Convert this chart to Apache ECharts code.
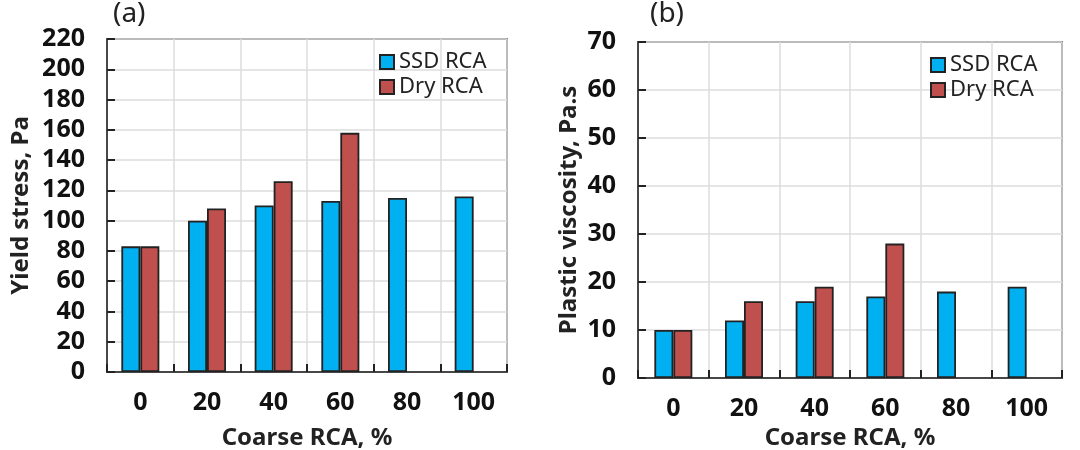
<!DOCTYPE html>
<html>
<head>
<meta charset="utf-8">
<script src="https://cdn.jsdelivr.net/npm/echarts@6/dist/echarts.min.js"></script>
<style>
  html, body { margin: 0; padding: 0; background: #fff; }
  #chart { width: 1080px; height: 450px; }
</style>
</head>
<body>
<div id="chart"></div>
<script>
var categories = ['0', '20', '40', '60', '80', '100'];
var yieldSSD = [83, 100, 110, 113, 115, 116];
var yieldDry = [83, 108, 126, 158, '-', '-'];
var viscSSD = [10, 12, 16, 17, 18, 19];
var viscDry = [10, 16, 19, 28, '-', '-'];

var font = 'Noto Sans';
var blue = '#00b0f0', red = '#c0504d';

function xAxisFor(gi, gap) {
    return {
        type: 'category', gridIndex: gi, data: categories,
        name: 'Coarse RCA, %', nameLocation: 'middle', nameGap: gap,
        nameTextStyle: { fontFamily: font, fontSize: 24, fontWeight: 'bold', color: '#222' },
        axisLine: { lineStyle: { color: '#222', width: 1.5 } },
        axisTick: { show: true, inside: true, length: 8, alignWithLabel: false, lineStyle: { color: '#222', width: 2 } },
        axisLabel: { fontFamily: font, fontSize: 25, fontWeight: 'bold', color: '#111', margin: 18 },
        splitLine: { show: true, interval: 0, lineStyle: { color: '#dcdcdc', width: 1.5 } }
    };
}
function yAxisFor(gi, name, max, step, gap) {
    return {
        type: 'value', gridIndex: gi, min: 0, max: max, interval: step,
        name: name, nameLocation: 'middle', nameGap: gap,
        nameTextStyle: { fontFamily: font, fontSize: 24, fontWeight: 'bold', color: '#222' },
        axisLine: { show: true, lineStyle: { color: '#222', width: 1.5 } },
        axisTick: { show: true, inside: true, length: 8, lineStyle: { color: '#222', width: 2 } },
        axisLabel: { fontFamily: font, fontSize: 25, fontWeight: 'bold', color: '#111', margin: 22 },
        splitLine: { show: true, lineStyle: { color: '#dcdcdc', width: 1.5 } }
    };
}
function barFor(name, data, color, gi) {
    return {
        name: name, type: 'bar', data: data, xAxisIndex: gi, yAxisIndex: gi,
        barWidth: 19, barGap: '0%',
        itemStyle: { color: color, borderColor: '#222', borderWidth: 1.8 }
    };
}

var chart = echarts.init(document.getElementById('chart'));
chart.setOption({
    animation: false,
    title: [
        { text: '(a)', left: 108, top: -5, textStyle: { fontFamily: font, fontSize: 28, fontWeight: 'normal', color: '#222' } },
        { text: '(b)', left: 645, top: -5, textStyle: { fontFamily: font, fontSize: 28, fontWeight: 'normal', color: '#222' } }
    ],
    grid: [
        { left: 107, top: 39, width: 400, height: 333, show: true, borderColor: '#222', borderWidth: 1.5, outerBoundsMode: 'none' },
        { left: 638, top: 42, width: 424, height: 336, show: true, borderColor: '#222', borderWidth: 1.5, outerBoundsMode: 'none' }
    ],
    legend: [
        { orient: 'vertical', left: 374, top: 46, itemWidth: 14, itemHeight: 14, itemGap: 3, icon: 'rect',
          textStyle: { fontFamily: font, fontSize: 22, color: '#222' }, data: ['SSD RCA', 'Dry RCA'] },
        { orient: 'vertical', left: 925, top: 49, itemWidth: 14, itemHeight: 14, itemGap: 3, icon: 'rect',
          textStyle: { fontFamily: font, fontSize: 22, color: '#222' }, data: ['SSD RCA', 'Dry RCA'] }
    ],
    xAxis: [xAxisFor(0, 54), xAxisFor(1, 48)],
    yAxis: [yAxisFor(0, 'Yield stress, Pa', 220, 20, 74), yAxisFor(1, 'Plastic viscosity, Pa.s', 70, 10, 57)],
    series: [
        barFor('SSD RCA', yieldSSD, blue, 0),
        barFor('Dry RCA', yieldDry, red, 0),
        barFor('SSD RCA', viscSSD, blue, 1),
        barFor('Dry RCA', viscDry, red, 1)
    ]
});
</script>
</body>
</html>
